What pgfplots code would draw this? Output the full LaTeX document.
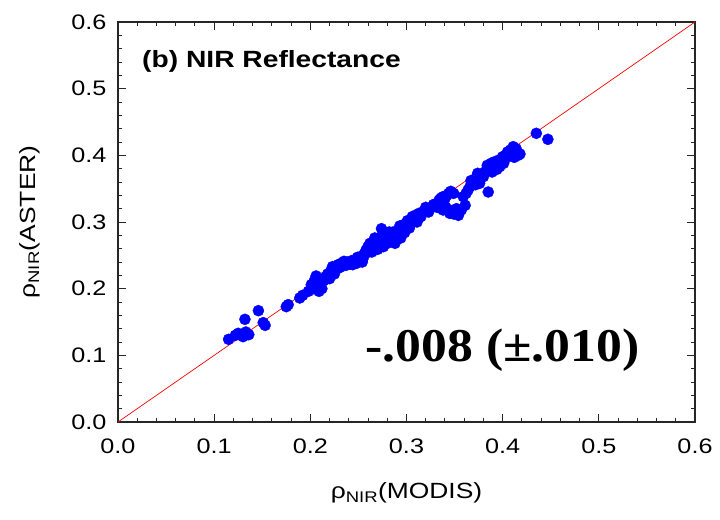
\documentclass[border=0pt]{standalone}
\usepackage{fontspec}
\setmainfont{Liberation Sans}[FakeStretch=1.2]
\newfontfamily\numserif{Liberation Serif}[FakeStretch=1.1]
\usepackage{pgfplots}
\pgfplotsset{compat=1.18}

\pgfplotstableread{
x y
0.115 0.124
0.122 0.130
0.125 0.133
0.130 0.128
0.133 0.135
0.136 0.131
0.132 0.154
0.146 0.167
0.151 0.149
0.153 0.145
0.175 0.173
0.177 0.176
0.189 0.186
0.192 0.190
0.198 0.196
0.201 0.206
0.203 0.200
0.204 0.211
0.206 0.219
0.208 0.203
0.210 0.207
0.212 0.200
0.214 0.212
0.218 0.222
0.221 0.226
0.223 0.233
0.226 0.228
0.229 0.236
0.232 0.238
0.235 0.241
0.238 0.240
0.241 0.237
0.244 0.236
0.246 0.243
0.249 0.247
0.252 0.248
0.254 0.240
0.256 0.252
0.258 0.258
0.260 0.263
0.262 0.268
0.264 0.255
0.266 0.260
0.268 0.270
0.270 0.266
0.272 0.276
0.274 0.290
0.276 0.263
0.277 0.283
0.279 0.270
0.281 0.278
0.283 0.280
0.285 0.273
0.286 0.285
0.288 0.268
0.290 0.282
0.292 0.288
0.294 0.276
0.296 0.290
0.298 0.284
0.300 0.293
0.302 0.296
0.304 0.300
0.306 0.308
0.308 0.302
0.310 0.306
0.313 0.313
0.315 0.308
0.318 0.316
0.321 0.318
0.324 0.320
0.326 0.322
0.330 0.327
0.334 0.333
0.338 0.338
0.340 0.335
0.342 0.340
0.344 0.343
0.346 0.346
0.349 0.343
0.338 0.318
0.341 0.322
0.345 0.313
0.349 0.312
0.354 0.310
0.357 0.318
0.361 0.325
0.364 0.348
0.366 0.353
0.369 0.360
0.371 0.364
0.373 0.368
0.376 0.358
0.378 0.372
0.380 0.368
0.383 0.378
0.385 0.345
0.386 0.383
0.388 0.388
0.390 0.378
0.392 0.382
0.395 0.385
0.397 0.383
0.399 0.392
0.401 0.388
0.403 0.400
0.405 0.405
0.408 0.408
0.411 0.413
0.413 0.405
0.416 0.400
0.418 0.402
0.435 0.433
0.447 0.424
0.205 0.214
0.209 0.196
0.216 0.218
0.220 0.215
0.225 0.222
0.228 0.230
0.231 0.232
0.237 0.235
0.243 0.242
0.248 0.238
0.251 0.244
0.255 0.246
0.259 0.254
0.261 0.259
0.263 0.262
0.267 0.276
0.270 0.259
0.273 0.268
0.275 0.280
0.278 0.276
0.280 0.268
0.282 0.285
0.284 0.276
0.287 0.279
0.289 0.274
0.291 0.280
0.293 0.294
0.295 0.283
0.297 0.296
0.299 0.288
0.301 0.302
0.303 0.291
0.305 0.304
0.309 0.310
0.311 0.300
0.316 0.314
0.320 0.322
0.323 0.315
0.328 0.326
0.332 0.322
0.336 0.336
0.347 0.317
0.352 0.320
0.359 0.338
0.362 0.343
0.367 0.362
0.372 0.356
0.374 0.373
0.377 0.365
0.381 0.374
0.384 0.385
0.389 0.375
0.391 0.390
0.394 0.379
0.396 0.393
0.400 0.398
0.402 0.393
0.406 0.399
0.409 0.403
0.412 0.397
0.414 0.410
}\nirdata

\begin{document}
\begin{tikzpicture}
\begin{axis}[
  scale only axis, width=577bp, height=400bp,
  xmin=0, xmax=0.6, ymin=0, ymax=0.6,
  xtick={0,0.1,0.2,0.3,0.4,0.5,0.6},
  ytick={0,0.1,0.2,0.3,0.4,0.5,0.6},
  minor tick num=4,
  tick align=inside,
  major tick length=8bp, minor tick length=4bp,
  axis line style={line width=1.3bp, black!85},
  every tick/.style={black!85, line width=1bp},
  /pgf/number format/.cd, fixed, fixed zerofill, precision=1, assume math mode=true,
  /pgfplots/.cd,
  tick label style={font=\fontsize{21bp}{24bp}\selectfont},
  xticklabel style={yshift=-13bp},
  yticklabel style={xshift=-8bp},
  xlabel={ρ\textsubscript{NIR}(MODIS)},
  ylabel={ρ\textsubscript{NIR}(ASTER)},
  label style={font=\fontsize{22bp}{26bp}\selectfont},
  xlabel style={at={(axis description cs:0.5,0)}, anchor=center, yshift=-71bp},
  ylabel style={at={(axis description cs:0,0.5)}, anchor=center, yshift=88bp},
]
\addplot[red, line width=0.7bp, no marks] coordinates {(0,0) (0.6,0.6)};
\addplot[only marks, mark=*, mark size=5.6bp, mark options={fill=blue, draw=blue, line width=0.3bp}] table {\nirdata};
\node[anchor=west, inner sep=0, font=\bfseries\fontsize{23.5bp}{28bp}\selectfont] at (axis cs:0.025,0.541) {(b) NIR Reflectance};
\node[anchor=center, inner sep=0, font=\numserif\bfseries\fontsize{47bp}{50bp}\selectfont] at (axis cs:0.400,0.108) {-.008 (±.010)};
\end{axis}
\path ([shift={(-118bp,-98bp)}]current axis.south west) rectangle ([shift={(25bp,22bp)}]current axis.north east);
\end{tikzpicture}
\end{document}
